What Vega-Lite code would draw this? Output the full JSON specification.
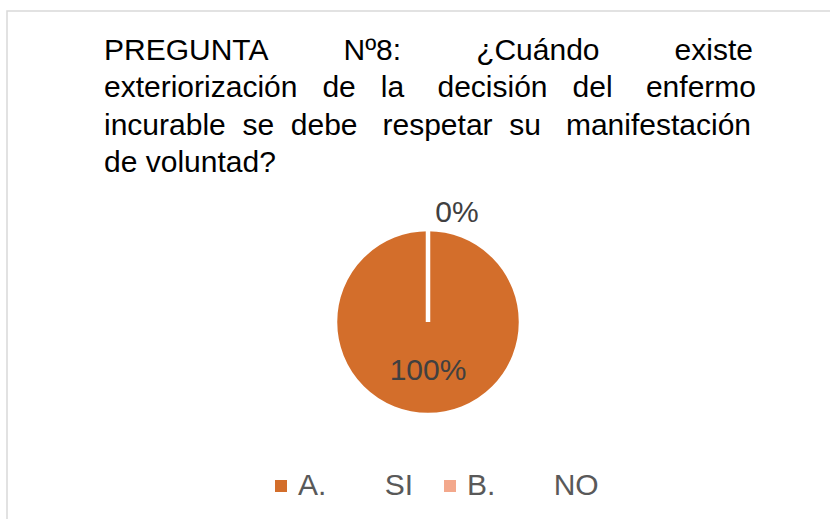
{
  "$schema": "https://vega.github.io/schema/vega-lite/v6.json",
  "width": 842,
  "height": 622,
  "autosize": {"type": "none"},
  "padding": {"left": 7, "top": 11, "right": 0, "bottom": 0},
  "background": "white",
  "view": {"stroke": "#D9D9D9", "strokeWidth": 1.5, "fill": "white"},
  "title": {
    "text": [
      "PREGUNTA\u00a0\u00a0\u00a0\u00a0\u00a0\u00a0\u00a0\u00a0\u00a0Nº8:\u00a0\u00a0\u00a0\u00a0\u00a0\u00a0\u00a0\u00a0\u00a0¿Cuándo\u00a0\u00a0\u00a0\u00a0\u00a0\u00a0\u00a0\u00a0\u00a0existe",
      "exteriorización\u00a0\u00a0\u00a0de\u00a0\u00a0\u00a0la\u00a0\u00a0\u00a0\u00a0decisión\u00a0\u00a0\u00a0del\u00a0\u00a0\u00a0\u00a0enfermo",
      "incurable\u00a0\u00a0se\u00a0\u00a0debe\u00a0\u00a0\u00a0respetar\u00a0\u00a0su\u00a0\u00a0\u00a0manifestación",
      "de\u00a0voluntad?"
    ],
    "anchor": "start",
    "frame": "group",
    "orient": "top",
    "offset": -167,
    "dx": 97,
    "font": "Liberation Sans",
    "fontSize": 30,
    "fontWeight": "normal",
    "color": "#000000",
    "lineHeight": 37.5
  },
  "data": {
    "values": [
      {"respuesta": "A.\u00a0\u00a0\u00a0\u00a0\u00a0\u00a0\u00a0SI", "valor": 1},
      {"respuesta": "B.\u00a0\u00a0\u00a0\u00a0\u00a0\u00a0\u00a0NO", "valor": 0}
    ]
  },
  "encoding": {
    "theta": {"field": "valor", "type": "quantitative", "stack": true}
  },
  "layer": [
    {
      "mark": {"type": "arc", "outerRadius": 93, "stroke": "white", "strokeWidth": 4.5},
      "encoding": {
        "color": {
          "field": "respuesta",
          "type": "nominal",
          "scale": {"range": ["#D36E2B", "#F3A88C"]},
          "legend": {
            "title": null,
            "orient": "none",
            "legendX": 259,
            "legendY": 460,
            "direction": "horizontal",
            "symbolType": "square",
            "symbolSize": 144,
            "symbolStrokeWidth": 0,
            "labelFont": "Liberation Sans",
            "labelFontSize": 30,
            "labelColor": "#595959",
            "labelOffset": 2,
            "columnPadding": 21,
            "labelLimit": 400
          }
        }
      }
    },
    {
      "mark": {"type": "text", "radius": 49, "font": "Liberation Sans", "fontSize": 30, "color": "#404040"},
      "encoding": {
        "detail": {"field": "respuesta", "type": "nominal"},
        "text": {
          "condition": {"test": "datum.valor > 0.5", "field": "valor", "type": "quantitative", "format": ".0%"},
          "value": ""
        }
      }
    },
    {
      "mark": {"type": "text", "radius": 109, "dx": 29, "font": "Liberation Sans", "fontSize": 30, "color": "#404040"},
      "encoding": {
        "detail": {"field": "respuesta", "type": "nominal"},
        "text": {
          "condition": {"test": "datum.valor <= 0.5", "field": "valor", "type": "quantitative", "format": ".0%"},
          "value": ""
        }
      }
    }
  ],
  "config": {
    "view": {"stroke": "#D9D9D9", "strokeWidth": 1.5}
  }
}
